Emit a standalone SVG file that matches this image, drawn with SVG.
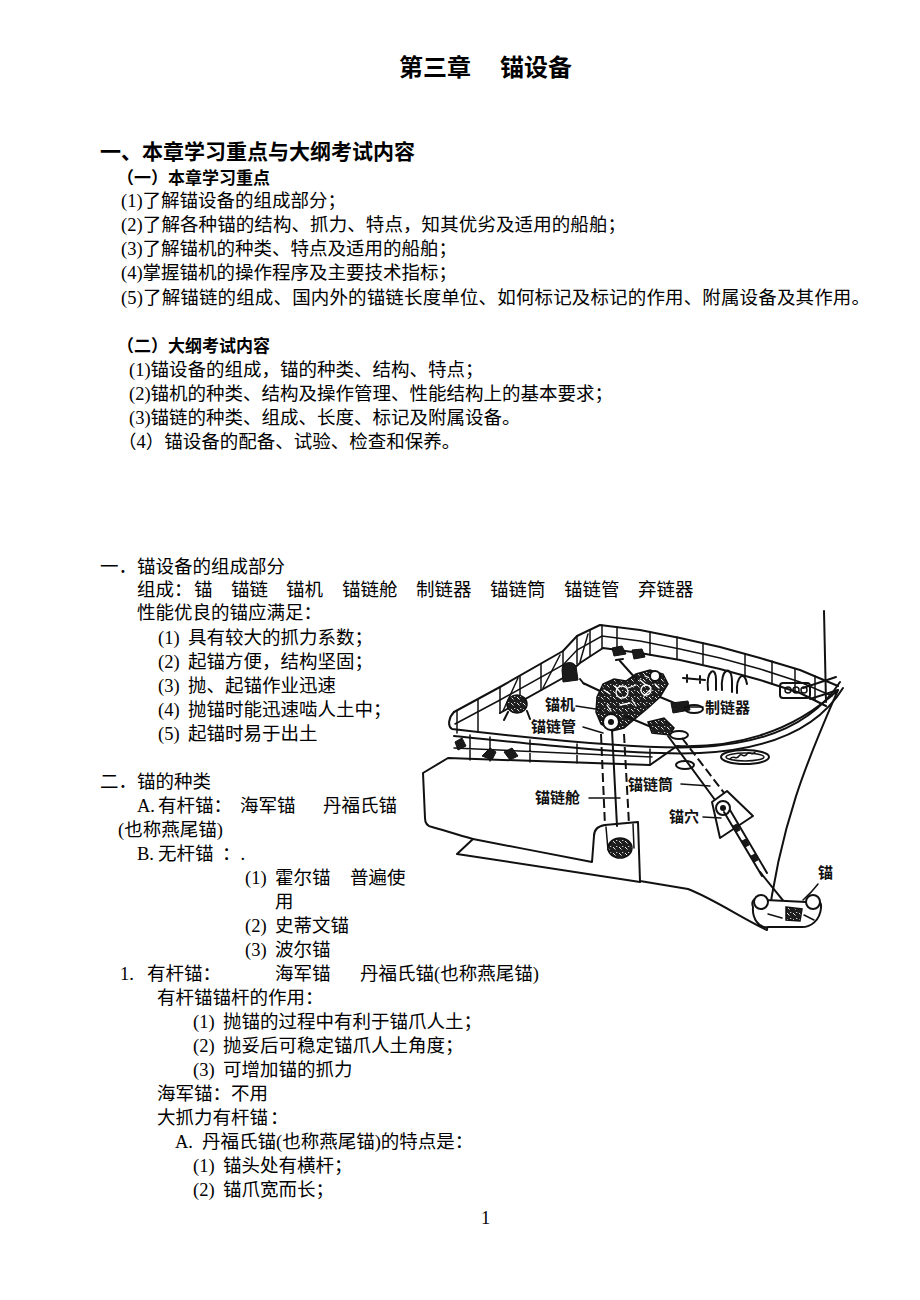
<svg xmlns="http://www.w3.org/2000/svg" width="920" height="1300" viewBox="0 0 920 1300">
<style>
.t{font-family:"Liberation Serif","Noto Sans CJK SC",serif;font-size:18.5px;fill:#000}
.h{font-family:"Noto Sans CJK SC","Liberation Sans",sans-serif;font-weight:bold;fill:#000}
.lbl{font-family:"Noto Sans CJK SC","Liberation Sans",sans-serif;font-weight:bold;font-size:15px;fill:#111}
.ln{fill:none;stroke:#111;stroke-width:2;stroke-linejoin:round;stroke-linecap:round}
.thin{fill:none;stroke:#111;stroke-width:1.5;stroke-linecap:round}
.dash{fill:none;stroke:#111;stroke-width:2;stroke-dasharray:9 4}
.dk{fill:#1a1a1a;stroke:#111;stroke-width:1}
.tx{fill:url(#tex);stroke:#111;stroke-width:1.5}
.wh{fill:none;stroke:#fff;stroke-width:1.3;stroke-linecap:round}
</style>
<defs>
<pattern id="tex" width="6" height="6" patternUnits="userSpaceOnUse">
<rect width="6" height="6" fill="#1e1e1e"/>
<path d="M1,1 l2.5,2.5 M4,0.5 l1.5,-0.5" stroke="#fff" stroke-width="0.9"/>
</pattern>
</defs>
<rect width="920" height="1300" fill="#fff"/>

<g id="page-text">
<text class="h" x="399" y="76" font-size="24">第三章</text>
<text class="h" x="500" y="76" font-size="24">锚设备</text>
<text class="h" x="100" y="159" font-size="21">一、本章学习重点与大纲考试内容</text>
<text class="h" x="117" y="184" font-size="17">（一）本章学习重点</text>
<text class="t" x="121" y="207">(1)了解锚设备的组成部分；</text>
<text class="t" x="121" y="231" textLength="505" lengthAdjust="spacing">(2)了解各种锚的结构、抓力、特点，知其优劣及适用的船舶；</text>
<text class="t" x="121" y="255">(3)了解锚机的种类、特点及适用的船舶；</text>
<text class="t" x="121" y="279">(4)掌握锚机的操作程序及主要技术指标；</text>
<text class="t" x="121" y="304" textLength="749" lengthAdjust="spacing">(5)了解锚链的组成、国内外的锚链长度单位、如何标记及标记的作用、附属设备及其作用。</text>
<text class="h" x="117" y="352" font-size="17">（二）大纲考试内容</text>
<text class="t" x="129" y="376">(1)锚设备的组成，锚的种类、结构、特点；</text>
<text class="t" x="129" y="400">(2)锚机的种类、结构及操作管理、性能结构上的基本要求；</text>
<text class="t" x="129" y="424">(3)锚链的种类、组成、长度、标记及附属设备。</text>
<text class="t" x="118" y="448">（4）锚设备的配备、试验、检查和保养。</text>

<text class="t" x="100" y="573">一．锚设备的组成部分</text>
<text class="t" y="596"><tspan x="137">组成：</tspan><tspan x="194">锚</tspan><tspan x="231">锚链</tspan><tspan x="286">锚机</tspan><tspan x="342">锚链舱</tspan><tspan x="416">制链器</tspan><tspan x="490">锚链筒</tspan><tspan x="564">锚链管</tspan><tspan x="638">弃链器</tspan></text>
<text class="t" x="137" y="619">性能优良的锚应满足：</text>
<text class="t" y="644"><tspan x="158">(1)</tspan><tspan x="188">具有较大的抓力系数；</tspan></text>
<text class="t" y="668"><tspan x="158">(2)</tspan><tspan x="188">起锚方便，结构坚固；</tspan></text>
<text class="t" y="692"><tspan x="158">(3)</tspan><tspan x="188">抛、起锚作业迅速</tspan></text>
<text class="t" y="716"><tspan x="158">(4)</tspan><tspan x="188">抛锚时能迅速啮人土中；</tspan></text>
<text class="t" y="740"><tspan x="158">(5)</tspan><tspan x="188">起锚时易于出土</tspan></text>

<text class="t" x="100" y="788">二．锚的种类</text>
<text class="t" y="812"><tspan x="137">A.</tspan><tspan x="158">有杆锚：</tspan><tspan x="240">海军锚</tspan><tspan x="323">丹福氏锚</tspan></text>
<text class="t" x="118" y="836">(也称燕尾锚)</text>
<text class="t" y="860"><tspan x="137">B.</tspan><tspan x="158">无杆锚</tspan><tspan x="222">：.</tspan></text>
<text class="t" y="884"><tspan x="245">(1)</tspan><tspan x="275">霍尔锚</tspan><tspan x="350">普遍使</tspan></text>
<text class="t" x="275" y="908">用</text>
<text class="t" y="932"><tspan x="245">(2)</tspan><tspan x="275">史蒂文锚</tspan></text>
<text class="t" y="956"><tspan x="245">(3)</tspan><tspan x="275">波尔锚</tspan></text>
<text class="t" y="980"><tspan x="120">1.</tspan><tspan x="147">有杆锚：</tspan><tspan x="275">海军锚</tspan><tspan x="360">丹福氏锚(也称燕尾锚)</tspan></text>
<text class="t" x="157" y="1004">有杆锚锚杆的作用：</text>
<text class="t" y="1028"><tspan x="193">(1)</tspan><tspan x="223">抛锚的过程中有利于锚爪人土；</tspan></text>
<text class="t" y="1052"><tspan x="193">(2)</tspan><tspan x="223">抛妥后可稳定锚爪人土角度；</tspan></text>
<text class="t" y="1076"><tspan x="193">(3)</tspan><tspan x="223">可增加锚的抓力</tspan></text>
<text class="t" x="157" y="1100">海军锚：不用</text>
<text class="t" y="1124"><tspan x="157">大抓力有杆锚</tspan><tspan x="270">：</tspan></text>
<text class="t" y="1148"><tspan x="175">A.</tspan><tspan x="202">丹福氏锚(也称燕尾锚)的特点是：</tspan></text>
<text class="t" y="1172"><tspan x="193">(1)</tspan><tspan x="223">锚头处有横杆；</tspan></text>
<text class="t" y="1196"><tspan x="193">(2)</tspan><tspan x="223">锚爪宽而长；</tspan></text>
<text class="t" x="481" y="1224" font-size="16">1</text>
</g>

<g id="ship">
  <g id="hull">
    <path class="ln" style="fill:#fff" d="M423,773 L448,758 L650,765 L677,746 C730,748 790,735 838,690 C812,750 780,820 767,930 C745,920 712,898 688,889 L640,881 L638,822 L605,825 C598,826 594,830 594,836 L592,862 C560,856 510,846 473,839 C455,834 440,829 432,827 C426,826 425,822 425,818 Z"/>
    <path class="ln" d="M473,839 L457,854 L640,882"/>
    <path class="ln" d="M803,688 L836,677 M810,699 L838,690"/>
  </g>
  <g id="railings">
    <path class="ln" stroke-width="2.5" d="M454,712 L500,687 L563,651 L577,636 L600,625 L640,630 L680,638 L720,647 L760,658 L800,670 L838,686"/>
    <path class="thin" d="M455,724 L500,700 L563,665 L577,650 L602,636 L640,641 L680,649 L720,658 L760,669 L800,682 L832,696"/>
    <path class="ln" d="M500,713 L563,678 L580,663 L603,648 L640,653 L680,660 L720,669 L760,680 L800,693 L826,706"/>
    <path class="thin" stroke-width="2" d="M457,711 V733 M478,700 V731 M500,687 V713 M520,676 V702 M541,664 V690 M563,651 V678 M577,636 V664 M590,630 V656 M602,625 V648 M617,627 V650 M650,632 V655 M677,637 V659 M703,643 V664 M745,654 V676 M772,661 V684 M795,669 V692 M815,676 V700"/>
    <path class="thin" d="M503,711 L518,678 M543,688 L560,655 M580,662 L588,634"/>
    <path class="ln" stroke-width="3" d="M454,712 C449,717 447,726 452,729 C520,737 640,750 700,747 C760,744 812,726 840,682"/>
    <path class="ln" d="M454,736 C520,743 640,756 700,753 C762,750 816,732 843,688"/>
    <path class="thin" d="M454,748 L652,757 M470,735 V760 M490,737 V761 M530,740 V762 M577,744 V763 M650,749 V765"/>
    <path class="ln" stroke-width="4" d="M824,611 L826,702"/>
  </g>
  <g id="equipment">
    <path class="tx" d="M597,697 L603,684 L614,679 L626,681 L636,674 L650,670 L663,674 L668,684 L660,697 L648,708 L636,718 L624,728 L612,731 L601,724 L596,712 Z"/>
    <path class="wh" d="M604,690 l6,4 M615,686 l5,6 M628,688 l8,-3 M640,680 l6,5 M650,690 l-6,6 M620,705 l10,-2 M607,705 l4,6 M632,700 l4,6 M645,676 l5,2 M655,684 l4,4"/>
    <circle cx="622" cy="692" r="6" fill="none" stroke="#fff" stroke-width="1.3"/>
    <circle cx="646" cy="690" r="5" fill="none" stroke="#fff" stroke-width="1.3"/>
    <circle cx="611" cy="722" r="8" fill="#fff" stroke="#111" stroke-width="2"/>
    <circle cx="611" cy="722" r="3" fill="#111"/>
    <circle cx="655" cy="676" r="5" fill="#fff" stroke="#111" stroke-width="2"/>
    <path class="ln" d="M583,683 L600,691 M580,679 l4,5 M620,661 L637,680 M616,660 l7,-1 M660,697 L684,707"/>
    <path class="ln" stroke-width="3" d="M625,716 L668,734"/>
    <path class="tx" d="M648,722 L664,718 L674,728 L670,735 L652,733 Z"/>
    <ellipse class="ln" cx="679" cy="735" rx="9" ry="4"/>
    <path class="dk" d="M671,703 L688,701 L690,710 L673,713 Z"/>
    <ellipse class="ln" cx="694" cy="709" rx="9" ry="4"/>
    <ellipse class="tx" cx="517" cy="704" rx="10" ry="9"/>
    <path class="ln" d="M508,712 L504,720 M527,711 L530,719"/>
    <path class="dk" d="M562,670 C562,662 572,660 576,666 L578,680 L563,682 Z"/>
    <path class="dk" d="M612,648 L622,646 L626,654 L614,656 Z M632,650 L642,649 L645,657 L634,659 Z"/>
    <path class="ln" stroke-width="3" d="M708,690 C706,670 716,665 716,680 L716,690 M722,690 C720,668 732,664 732,682 L732,692 M737,693 C736,675 745,670 747,684"/>
    <path class="ln" d="M683,678 L705,680 M687,675 v7 M700,676 v7"/>
    <rect class="ln" x="780" y="683" width="30" height="15" rx="3"/>
    <path class="thin" d="M785,690 a3,3 0 1,0 6,0 a3,3 0 1,0 -6,0 M793,690 a3,3 0 1,0 6,0 a3,3 0 1,0 -6,0 M801,690 a3,3 0 1,0 6,0 a3,3 0 1,0 -6,0"/>
    <ellipse class="ln" cx="745" cy="757" rx="24" ry="7"/>
    <ellipse class="thin" cx="745" cy="757" rx="19" ry="4"/>
    <path class="thin" d="M730,759 c4,-5 6,2 9,-3 c3,-4 5,3 8,-2 c3,-4 5,3 8,-2"/>
    <ellipse class="ln" cx="685" cy="765" rx="9" ry="4"/>
    <path class="dk" d="M482,756 L490,748 L496,752 L492,760 Z M504,752 L512,748 L518,756 L510,760 Z"/>
    <path class="dk" d="M455,742 L462,738 L466,746 L458,750 Z"/>
  </g>
  <g id="chain-gear">
    <path class="dash" d="M601,734 L605,826 M624,734 L629,824"/>
    <path class="ln" d="M612,730 L617,826"/>
    <path class="thin" d="M606,827 L608,850 M633,824 L634,848"/>
    <ellipse class="tx" cx="620" cy="848" rx="12" ry="10"/>
    <path class="ln" d="M668,736 L718,804"/>
    <path class="dash" d="M682,738 L728,798"/>
    <polygon class="ln" style="fill:#fff" points="712,802 727,791 753,816 720,838"/>
    <circle cx="723" cy="808" r="7" fill="#fff" stroke="#111" stroke-width="2"/>
    <circle cx="723" cy="808" r="3" fill="#111"/>
    <path class="ln" d="M724,812 L762,876 M730,810 L767,873"/>
    <path class="dk" d="M733,826 l4,-2 l3,6 l-4,2 Z M742,841 l4,-2 l3,6 l-4,2 Z M751,856 l4,-2 l3,6 l-4,2 Z"/>
    <path class="ln" stroke-width="6" d="M760,872 L794,914"/>
    <path class="ln" style="fill:#fff" d="M753,907 C750,899 759,895 766,900 L806,902 C813,896 822,899 821,908 C820,920 811,928 800,927 L768,927 C759,929 752,918 753,907 Z"/>
    <circle cx="761" cy="902" r="7" fill="#fff" stroke="#111" stroke-width="2"/>
    <circle cx="813" cy="902" r="7" fill="#fff" stroke="#111" stroke-width="2"/>
    <path class="tx" d="M786,907 L802,909 L800,921 L786,920 Z"/>
    <path class="thin" d="M768,914 L782,918 M804,915 L814,920"/>
  </g>
</g>

<g id="connectors" class="thin" stroke-width="1.6">
  <path d="M576,706 L602,710"/>
  <path d="M583,727 L603,733"/>
  <path d="M684,707 L703,707"/>
  <path d="M681,784 L710,786"/>
  <path d="M589,798 L620,798"/>
  <path d="M703,817 L721,818"/>
  <path d="M818,884 Q812,892 803,900"/>
</g>

<g id="label-maoji"><text class="lbl" x="545" y="710">锚机</text></g>
<g id="label-maolianguan"><text class="lbl" x="531" y="732">锚链管</text></g>
<g id="label-zhilianqi"><text class="lbl" x="705" y="713">制链器</text></g>
<g id="label-maoliantong"><text class="lbl" x="628" y="790">锚链筒</text></g>
<g id="label-maoliancang"><text class="lbl" x="535" y="803">锚链舱</text></g>
<g id="label-maoxue"><text class="lbl" x="669" y="822">锚穴</text></g>
<g id="label-mao"><text class="lbl" x="818" y="878">锚</text></g>
</svg>
